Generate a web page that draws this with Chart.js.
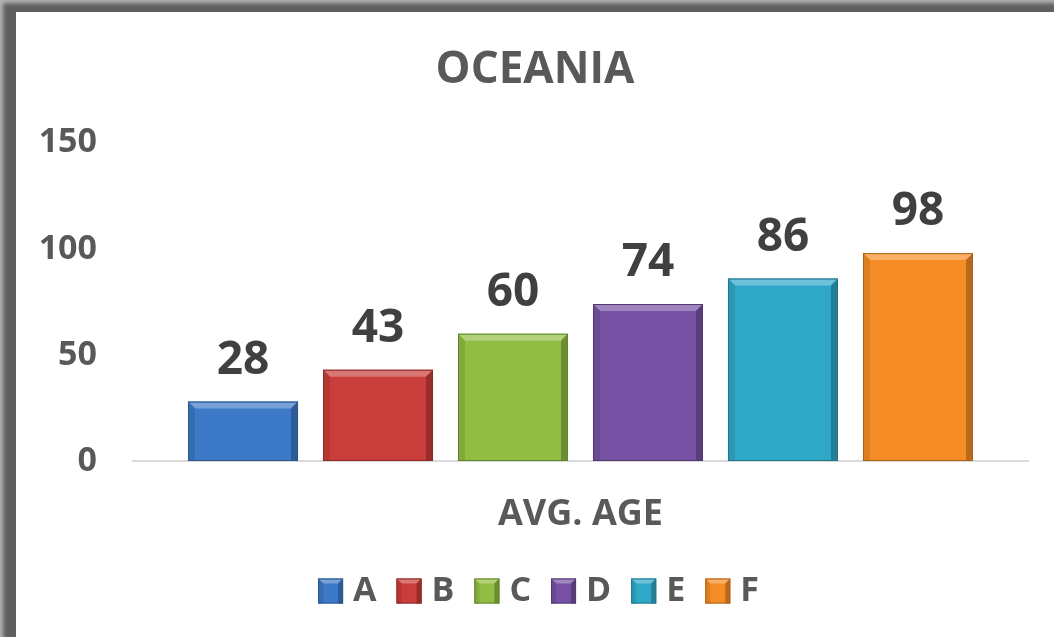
<!DOCTYPE html>
<html>
<head>
<meta charset="utf-8">
<script src="https://cdn.jsdelivr.net/npm/chart.js@4/dist/chart.umd.min.js"></script>
<style>
  html, body { margin: 0; padding: 0; background: #fff; }
  #frame {
    position: absolute; left: 0; top: 0; width: 1054px; height: 637px;
    background: #5f5f5f;
    box-shadow: inset 3px 3px 4px rgba(255,255,255,0.55);
  }
  #box {
    position: absolute; left: 16px; top: 12px; width: 1038px; height: 625px;
    background: #fff;
  }
</style>
</head>
<body>
<div id="frame"></div>
<div id="box"><canvas id="ageChart" width="1038" height="625"></canvas></div>
<script>
const categories = ["AVG. AGE"];
const seriesNames = ["A", "B", "C", "D", "E", "F"];
const seriesValues = [[28], [43], [60], [74], [86], [98]];
const seriesColors = ["#3c79c6", "#c93d3a", "#90bd42", "#7751a3", "#2fa8c8", "#f68c25"];
const yTicks = [0, 50, 100, 150];

const FONT = "'Open Sans', sans-serif";
const TEXT = "#595959";

function shade(hex, amt) {
  let r = parseInt(hex.slice(1, 3), 16), g = parseInt(hex.slice(3, 5), 16), b = parseInt(hex.slice(5, 7), 16);
  const f = v => Math.max(0, Math.min(255, Math.round(amt > 0 ? v + (255 - v) * amt : v * (1 + amt))));
  return "rgb(" + f(r) + "," + f(g) + "," + f(b) + ")";
}

// vertical gradient on each bar, lighter on top
function barFill(ctx) {
  const c = seriesColors[ctx.datasetIndex];
  const el = ctx.element;
  const area = ctx.chart.chartArea;
  if (!area || !el) return c;
  const top = el.y, bottom = area.bottom;
  if (!isFinite(top)) return c;
  const g = ctx.chart.ctx.createLinearGradient(0, top, 0, bottom);
  g.addColorStop(0, shade(c, 0.08));
  g.addColorStop(1, shade(c, -0.12));
  return g;
}

function bevelBox(ctx, x0, y0, w, h, c, d, fill) {
  const x1 = x0 + w, y1 = y0 + h;
  ctx.save();
  if (fill) {
    ctx.fillStyle = c;
    ctx.fillRect(x0, y0, w, h);
  }
  ctx.fillStyle = shade(c, 0.3);
  ctx.beginPath();
  ctx.moveTo(x0, y0); ctx.lineTo(x1, y0); ctx.lineTo(x1 - d, y0 + d); ctx.lineTo(x0 + d, y0 + d);
  ctx.closePath(); ctx.fill();
  ctx.fillStyle = shade(c, -0.1);
  ctx.beginPath();
  ctx.moveTo(x0, y0); ctx.lineTo(x0 + d, y0 + d); ctx.lineTo(x0 + d, y1); ctx.lineTo(x0, y1);
  ctx.closePath(); ctx.fill();
  ctx.fillStyle = shade(c, -0.25);
  ctx.beginPath();
  ctx.moveTo(x1, y0); ctx.lineTo(x1 - d, y0 + d); ctx.lineTo(x1 - d, y1); ctx.lineTo(x1, y1);
  ctx.closePath(); ctx.fill();
  ctx.strokeStyle = shade(c, -0.3);
  ctx.lineWidth = 1;
  ctx.strokeRect(x0 + 0.5, y0 + 0.5, w - 1, h - 1);
  ctx.restore();
}

// bevel edges to get the raised look, also on the legend boxes
const bevel = {
  id: "bevel",
  afterDatasetsDraw(chart) {
    chart.data.datasets.forEach((ds, i) => {
      chart.getDatasetMeta(i).data.forEach(bar => {
        bevelBox(chart.ctx, bar.x - bar.width / 2, bar.y, bar.width, bar.base - bar.y, seriesColors[i], 7, false);
      });
    });
  },
  afterDraw(chart) {
    const lg = chart.legend;
    if (!lg || !lg.legendHitBoxes) return;
    const bw = lg.options.labels.boxWidth;
    lg.legendHitBoxes.forEach((hb, i) => {
      const cy = hb.top + hb.height / 2;
      bevelBox(chart.ctx, hb.left + 7, cy - bw / 2, bw, bw, seriesColors[i], 5, true);
    });
  }
};

// value labels over the bars
const valueLabels = {
  id: "valueLabels",
  afterDatasetsDraw(chart) {
    const ctx = chart.ctx;
    ctx.save();
    ctx.font = "bold 46px " + FONT;
    ctx.fillStyle = "#404040";
    ctx.textAlign = "center";
    ctx.textBaseline = "alphabetic";
    chart.data.datasets.forEach((ds, i) => {
      chart.getDatasetMeta(i).data.forEach((bar, j) => {
        ctx.fillText(ds.data[j], bar.x, bar.y - 28);
      });
    });
    ctx.restore();
  }
};

const cnv = document.getElementById("ageChart");
const chart = new Chart(cnv.getContext("2d"), {
  type: "bar",
  data: {
    labels: categories,
    datasets: seriesNames.map((name, i) => ({
      label: name,
      data: seriesValues[i],
      backgroundColor: barFill,
      borderWidth: 0,
      categoryPercentage: 0.905,
      barPercentage: 0.815
    }))
  },
  options: {
    responsive: false,
    animation: false,
    devicePixelRatio: 1,
    layout: { padding: { left: 13, right: 13, top: 14, bottom: 19 } },
    plugins: {
      title: {
        display: true,
        text: "OCEANIA",
        color: TEXT,
        font: { family: FONT, size: 44, weight: "bold" },
        padding: { top: 18, bottom: 46 }
      },
      legend: {
        position: "bottom",
        labels: {
          color: TEXT,
          font: { family: FONT, size: 34, weight: "bold" },
          boxWidth: 25,
          boxHeight: 25,
          padding: 13,
          generateLabels(chart) {
            return chart.data.datasets.map((ds, i) => ({
              text: ds.label,
              fillStyle: "rgba(0,0,0,0)",
              strokeStyle: "rgba(0,0,0,0)",
              lineWidth: 0,
              fontColor: TEXT,
              datasetIndex: i
            }));
          }
        }
      },
      tooltip: { enabled: false }
    },
    scales: {
      x: {
        grid: { display: false },
        border: { color: "#d9d9d9", width: 2 },
        afterFit(scale) { scale.height = 100; },
        ticks: {
          color: TEXT,
          padding: 24,
          font: { family: FONT, size: 36, weight: "bold" }
        }
      },
      y: {
        min: 0,
        max: 150,
        afterBuildTicks(scale) { scale.ticks = yTicks.map(v => ({ value: v })); },
        afterFit(scale) { scale.width = 104; },
        grid: { display: false, drawTicks: false },
        border: { display: false },
        ticks: {
          color: TEXT,
          padding: 36,
          font: { family: FONT, size: 34, weight: "bold" }
        }
      },
      yRight: {
        position: "right",
        min: 0,
        max: 150,
        afterFit(scale) { scale.width = 13; },
        grid: { display: false, drawTicks: false },
        border: { display: false },
        ticks: { display: false }
      }
    }
  },
  plugins: [bevel, valueLabels]
});
</script>
</body>
</html>
